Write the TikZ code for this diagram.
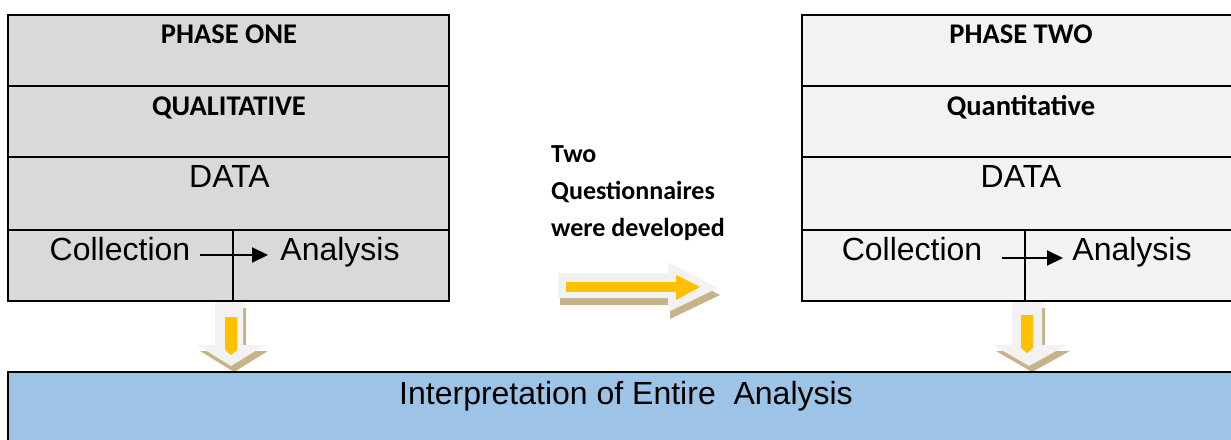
\documentclass[tikz,border=0pt]{standalone}
\usepackage{fontspec}
\setmainfont{Liberation Sans}
\newfontfamily\calib{Carlito}
\usetikzlibrary{arrows.meta}
\definecolor{phaseone}{HTML}{D9D9D9}
\definecolor{phasetwo}{HTML}{F2F2F2}
\definecolor{interp}{HTML}{9DC3E6}
\definecolor{gold}{HTML}{FFC000}
\definecolor{tanshade}{HTML}{C6B488}
\definecolor{palearrow}{HTML}{F2F2F2}
\tikzset{
  cell/.style={draw=black, line width=2pt, inner sep=0pt, outer sep=0pt, anchor=north west},
  head/.style={font=\calib\bfseries\fontsize{28.5}{34}\selectfont, inner sep=0pt, anchor=base},
  plain/.style={font=\fontsize{32}{38}\selectfont, inner sep=0pt, anchor=base},
  note/.style={font=\calib\bfseries\fontsize{26}{37}\selectfont, inner sep=0pt, align=left, anchor=base west},
  flow/.style={line width=2pt, -{Triangle[length=16pt, width=15pt]}},
  shadowfill/.style={fill=tanshade, draw=none},
  outerfill/.style={fill=palearrow, draw=none},
  innerfill/.style={fill=gold, draw=none},
}
\begin{document}
\begin{tikzpicture}[x=1pt, y=-1pt]
\useasboundingbox (0,0) rectangle (1231,439);

% block arrow between the phases
\fill[shadowfill, shift={(2,7)}] (558,273) -- (668,273) -- (668,262) -- (718,288) -- (668,312) -- (668,298) -- (558,298) -- cycle;
\fill[outerfill] (558,273) -- (668,273) -- (668,262) -- (718,288) -- (668,312) -- (668,298) -- (558,298) -- cycle;
\fill[innerfill] (566,282) -- (676,282) -- (676,275) -- (700,287) -- (676,300) -- (676,292) -- (566,292) -- cycle;

% downward block arrows
\fill[shadowfill, shift={(3,6)}] (215,302) -- (243,302) -- (243,345) -- (265,345) -- (231,366) -- (197,345) -- (215,345) -- cycle;
\fill[outerfill] (215,302) -- (243,302) -- (243,345) -- (265,345) -- (231,366) -- (197,345) -- (215,345) -- cycle;
\fill[innerfill] (225,317) -- (237,317) -- (237,350) -- (231,355) -- (225,350) -- cycle;

\fill[shadowfill, shift={(3,6)}] (1012,302) -- (1042,302) -- (1042,345) -- (1067,345) -- (1029,366) -- (993,345) -- (1012,345) -- cycle;
\fill[outerfill] (1012,302) -- (1042,302) -- (1042,345) -- (1067,345) -- (1029,366) -- (993,345) -- (1012,345) -- cycle;
\fill[innerfill] (1021,315) -- (1033,315) -- (1033,348) -- (1027,353) -- (1021,348) -- cycle;

% phase one table
\node[cell, fill=phaseone, minimum width=441pt, minimum height=71pt] (a1) at (8,15) {};
\node[cell, fill=phaseone, minimum width=441pt, minimum height=71pt] (a2) at (a1.south west) {};
\node[cell, fill=phaseone, minimum width=441pt, minimum height=73pt] (a3) at (a2.south west) {};
\node[cell, fill=phaseone, minimum width=225pt, minimum height=71pt] (a4) at (a3.south west) {};
\node[cell, fill=phaseone, minimum width=216pt, minimum height=71pt] (a5) at (a4.north east) {};

\node[head] (t1) at (229,43) {PHASE ONE};
\node[head] (q1) at (229,115) {QUALITATIVE};
\node[plain] (d1) at (229.5,187) {DATA};
\node[plain] (c1) at (120,260) {Collection};
\node[plain] (n1) at (340,260) {Analysis};
\coordinate (c1s) at (200,255);
\coordinate (c1e) at (268,255);
\draw[flow] (c1s) -- (c1e);

% phase two table
\node[cell, fill=phasetwo, minimum width=441pt, minimum height=71pt] (b1) at (802,15) {};
\node[cell, fill=phasetwo, minimum width=441pt, minimum height=71pt] (b2) at (b1.south west) {};
\node[cell, fill=phasetwo, minimum width=441pt, minimum height=73pt] (b3) at (b2.south west) {};
\node[cell, fill=phasetwo, minimum width=223pt, minimum height=71pt] (b4) at (b3.south west) {};
\node[cell, fill=phasetwo, minimum width=218pt, minimum height=71pt] (b5) at (b4.north east) {};

\node[head] (t2) at (1021,43) {PHASE TWO};
\node[head] (q2) at (1021,115) {Quantitative};
\node[plain] (d2) at (1021,187) {DATA};
\node[plain] (c2) at (912,260) {Collection};
\node[plain] (n2) at (1132,260) {Analysis};
\coordinate (c2s) at (1002,258);
\coordinate (c2e) at (1063,258);
\draw[flow] (c2s) -- (c2e);

% note between the phases (base anchor sits on the last line)
\node[note] (qn) at (551,236.5) {Two\\Questionnaires\\were developed};

% interpretation band
\node[cell, fill=interp, line width=2.5pt, minimum width=1240pt, minimum height=80pt] (ia) at (8,372) {};
\node[plain] (it) at (626,404) {Interpretation of Entire\ \ Analysis};
\end{tikzpicture}
\end{document}
